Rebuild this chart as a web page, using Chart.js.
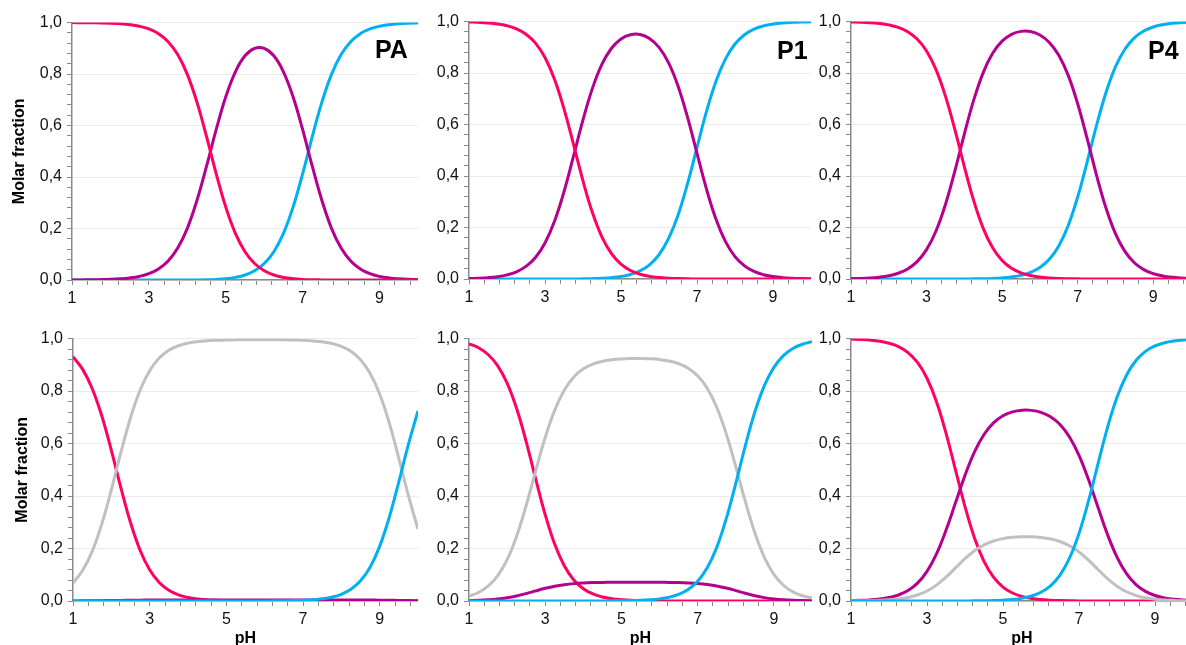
<!DOCTYPE html>
<html>
<head>
<meta charset="utf-8">
<script src="https://cdn.jsdelivr.net/npm/chart.js@4.4.0/dist/chart.umd.min.js"></script>
<style>
  html, body { margin: 0; padding: 0; background: #fff; width: 1186px; height: 645px; overflow: hidden; }
  .box { position: absolute; }
  .tag { position: absolute; font: bold 25px "Liberation Sans", Arial, sans-serif; line-height: 25px; color: #000; }
</style>
</head>
<body>
<div class="box" id="b1"><canvas id="c1"></canvas></div>
<div class="box" id="b2"><canvas id="c2"></canvas></div>
<div class="box" id="b3"><canvas id="c3"></canvas></div>
<div class="box" id="b4"><canvas id="c4"></canvas></div>
<div class="box" id="b5"><canvas id="c5"></canvas></div>
<div class="box" id="b6"><canvas id="c6"></canvas></div>
<div class="tag" style="left:375px;top:37px">PA</div>
<div class="tag" style="left:777px;top:38px">P1</div>
<div class="tag" style="left:1148px;top:38px">P4</div>
<script>
// pH points shared by all panels
var pH = [1, 1.25, 1.5, 1.75, 2, 2.25, 2.5, 2.75, 3, 3.25, 3.5, 3.75, 4, 4.25, 4.5, 4.75, 5, 5.25, 5.5, 5.75,
          6, 6.25, 6.5, 6.75, 7, 7.25, 7.5, 7.75, 8, 8.25, 8.5, 8.75, 9, 9.25, 9.5, 9.75, 10];

var xMajor = [1, 3, 5, 7, 9];
var yMajor = [0, 0.2, 0.4, 0.6, 0.8, 1];
var yLabels = ['0,0', '0,2', '0,4', '0,6', '0,8', '1,0'];

// top row: PA, P1, P4
var pa_red = [1.0, 0.9996, 0.9992, 0.9986, 0.9975, 0.9955, 0.992, 0.986, 0.9755, 0.957, 0.926, 0.876, 0.799, 0.691, 0.557, 0.4135, 0.283, 0.181, 0.110, 0.064,
              0.036, 0.0195, 0.010, 0.005, 0.0023, 0.001, 0.0004, 0, 0, 0, 0, 0, 0, 0, 0, 0, 0];
var pa_purple = [0.0003, 0.0004, 0.0008, 0.0014, 0.0025, 0.0045, 0.0079, 0.0139, 0.0245, 0.0428, 0.0736, 0.124, 0.2007, 0.309, 0.442, 0.584, 0.712, 0.809, 0.871, 0.900,
                 0.900, 0.871, 0.809, 0.712, 0.584, 0.442, 0.309, 0.2007, 0.124, 0.0736, 0.0428, 0.0245, 0.0139, 0.0079, 0.0045, 0.0025, 0.0014];
var pa_blue = [0, 0, 0, 0, 0, 0, 0, 0, 0, 0, 0, 0, 0.0001, 0.0004, 0.001, 0.0023, 0.005, 0.0102, 0.0195, 0.036,
               0.064, 0.110, 0.181, 0.283, 0.413, 0.557, 0.691, 0.799, 0.876, 0.926, 0.957, 0.9755, 0.986, 0.992, 0.9955, 0.9975, 0.9986];

var p1_red = [0.9984, 0.9971, 0.9949, 0.991, 0.984, 0.972, 0.951, 0.9164, 0.8604, 0.776, 0.661, 0.523, 0.381, 0.257, 0.1627, 0.0983, 0.0575, 0.0329, 0.0185, 0.0102,
              0.0055, 0.0029, 0.0015, 0.0007, 0.0003, 0.0001, 0, 0, 0, 0, 0, 0, 0, 0, 0, 0, 0];
var p1_purple = [0.0016, 0.0029, 0.0051, 0.009, 0.016, 0.028, 0.049, 0.0836, 0.1396, 0.224, 0.339, 0.477, 0.618, 0.7416, 0.8345, 0.8965, 0.9327, 0.949, 0.950, 0.9347,
                 0.900, 0.8406, 0.750, 0.629, 0.488, 0.349, 0.232, 0.145, 0.0872, 0.051, 0.0293, 0.0167, 0.0095, 0.0053, 0.003, 0.0017, 0.001];
var p1_blue = [0, 0, 0, 0, 0, 0, 0, 0, 0, 0, 0, 0, 0.0006, 0.0014, 0.0028, 0.0053, 0.0098, 0.0177, 0.0314, 0.055,
               0.0942, 0.1565, 0.248, 0.370, 0.511, 0.651, 0.768, 0.855, 0.9128, 0.949, 0.9707, 0.9833, 0.9905, 0.9947, 0.997, 0.9983, 0.999];

var p4_red = [0.9987, 0.9977, 0.9959, 0.9928, 0.9873, 0.9776, 0.9609, 0.9325, 0.8859, 0.8136, 0.7105, 0.580, 0.437, 0.3037, 0.1969, 0.121, 0.0717, 0.0415, 0.0236, 0.0133,
              0.0074, 0.004, 0.0021, 0.0011, 0.0005, 0.0002, 0, 0, 0, 0, 0, 0, 0, 0, 0, 0, 0];
var p4_purple = [0.0013, 0.0023, 0.0041, 0.0072, 0.0127, 0.0224, 0.0391, 0.0675, 0.1141, 0.1864, 0.2895, 0.420, 0.563, 0.6957, 0.802, 0.8767, 0.924, 0.9506, 0.962, 0.9614,
                 0.948, 0.919, 0.869, 0.791, 0.681, 0.546, 0.403, 0.2755, 0.176, 0.1073, 0.0633, 0.0366, 0.0209, 0.0119, 0.0067, 0.0038, 0.0021];
var p4_blue = [0, 0, 0, 0, 0, 0, 0, 0, 0, 0, 0, 0, 0.0002, 0.0006, 0.0012, 0.0023, 0.0043, 0.0079, 0.0142, 0.0253,
               0.0444, 0.0765, 0.1286, 0.208, 0.3186, 0.454, 0.597, 0.7245, 0.824, 0.8927, 0.9367, 0.9634, 0.979, 0.988, 0.9933, 0.9962, 0.9979];

// bottom row
var pa2_red = [0.931, 0.8836, 0.810, 0.7058, 0.5743, 0.4314, 0.299, 0.1935, 0.1189, 0.0705, 0.0409, 0.0234, 0.0133, 0.0075, 0.0042, 0.0024, 0.0013, 0.0008, 0.0004, 0.0002,
               0.0001, 0, 0, 0, 0, 0, 0, 0, 0, 0, 0, 0, 0, 0, 0, 0, 0];
var pa2_purple = [0.0003, 0.0005, 0.0008, 0.0012, 0.0017, 0.0023, 0.0028, 0.0032, 0.0035, 0.0037, 0.004, 0.004, 0.004, 0.004, 0.004, 0.004, 0.004, 0.004, 0.004, 0.004,
                  0.004, 0.004, 0.004, 0.004, 0.004, 0.004, 0.004, 0.004, 0.004, 0.0038, 0.0037, 0.0035, 0.0032, 0.0027, 0.0022, 0.0016, 0.0011];
var pa2_grey = [0.0687, 0.1159, 0.1892, 0.293, 0.424, 0.5663, 0.6982, 0.8033, 0.8776, 0.9258, 0.9553, 0.9727, 0.9828, 0.9885, 0.9918, 0.9936, 0.9947, 0.9952, 0.9956, 0.9957,
                0.9956, 0.9955, 0.9952, 0.9945, 0.9934, 0.9913, 0.9877, 0.9815, 0.9705, 0.9515, 0.9195, 0.8677, 0.7886, 0.6786, 0.5437, 0.4018, 0.2743];
var pa2_blue = [0, 0, 0, 0, 0, 0, 0, 0, 0, 0, 0, 0, 0, 0, 0, 0, 0, 0, 0, 0.0001,
                0.0003, 0.0005, 0.0008, 0.0015, 0.0026, 0.0047, 0.0083, 0.0146, 0.0256, 0.0447, 0.0768, 0.1288, 0.2082, 0.3187, 0.4541, 0.5966, 0.7246];

var p12_red = [0.980, 0.965, 0.9393, 0.897, 0.8304, 0.7336, 0.6077, 0.4655, 0.3287, 0.2159, 0.1341, 0.0801, 0.0467, 0.0268, 0.0153, 0.0086, 0.0049, 0.0027, 0.0015, 0.0009,
               0.0005, 0.0003, 0.0002, 0.0001, 0, 0, 0, 0, 0, 0, 0, 0, 0, 0, 0, 0, 0];
var p12_purple = [0.0014, 0.0025, 0.0044, 0.0074, 0.0122, 0.0192, 0.0282, 0.0385, 0.0483, 0.0565, 0.0623, 0.0662, 0.0686, 0.0701, 0.0709, 0.0713, 0.0716, 0.0717, 0.0717, 0.0716,
                  0.0714, 0.0709, 0.0702, 0.0688, 0.0666, 0.0629, 0.0573, 0.0494, 0.0397, 0.0294, 0.0202, 0.0129, 0.0079, 0.0047, 0.0027, 0.0015, 0.0009];
var p12_grey = [0.0186, 0.0325, 0.0563, 0.0956, 0.1574, 0.2472, 0.3641, 0.496, 0.623, 0.7276, 0.8036, 0.8537, 0.8847, 0.903, 0.9135, 0.9196, 0.9227, 0.9241, 0.9242, 0.9229,
                0.920, 0.9145, 0.9045, 0.8874, 0.8582, 0.8108, 0.7382, 0.6369, 0.5119, 0.3795, 0.2598, 0.1666, 0.1016, 0.060, 0.0347, 0.0199, 0.0113];
var p12_blue = [0, 0, 0, 0, 0, 0, 0, 0, 0, 0, 0, 0, 0, 0.0001, 0.0003, 0.0005, 0.0008, 0.0015, 0.0026, 0.0046,
                0.0081, 0.0143, 0.0251, 0.0437, 0.0752, 0.1263, 0.2045, 0.3137, 0.4484, 0.5911, 0.720, 0.8205, 0.8905, 0.9353, 0.9626, 0.9786, 0.9878];

var p42_red = [0.9982, 0.9968, 0.9944, 0.9901, 0.9825, 0.9694, 0.9468, 0.9091, 0.849, 0.7597, 0.640, 0.500, 0.3599, 0.2402, 0.1508, 0.0907, 0.0531, 0.0305, 0.0173, 0.0097,
               0.0054, 0.003, 0.0016, 0.0008, 0.0004, 0.0002, 0, 0, 0, 0, 0, 0, 0, 0, 0, 0, 0];
var p42_purple = [0.0013, 0.0024, 0.0042, 0.0074, 0.0131, 0.0229, 0.0398, 0.068, 0.113, 0.1797, 0.2693, 0.374, 0.4787, 0.568, 0.6345, 0.6788, 0.7058, 0.7208, 0.7271, 0.7265,
                  0.719, 0.7024, 0.673, 0.6253, 0.5552, 0.4627, 0.3569, 0.2536, 0.1675, 0.1043, 0.0625, 0.0365, 0.0209, 0.012, 0.0067, 0.0038, 0.0022];
var p42_grey = [0.0005, 0.0008, 0.0014, 0.0025, 0.0044, 0.0077, 0.0134, 0.0229, 0.038, 0.0606, 0.0907, 0.126, 0.1613, 0.1914, 0.2137, 0.2287, 0.2378, 0.2428, 0.2449, 0.2448,
                0.2422, 0.2367, 0.2267, 0.2107, 0.187, 0.1559, 0.1202, 0.0854, 0.0564, 0.0352, 0.0211, 0.0123, 0.0071, 0.004, 0.0023, 0.0013, 0.0007];
var p42_blue = [0, 0, 0, 0, 0, 0, 0, 0, 0, 0, 0, 0, 0.0002, 0.0005, 0.0009, 0.0018, 0.0033, 0.0059, 0.0107, 0.0189,
                0.0333, 0.0579, 0.0987, 0.163, 0.2574, 0.3812, 0.5229, 0.661, 0.7761, 0.8605, 0.9164, 0.9512, 0.972, 0.984, 0.991, 0.9949, 0.9971];

var RED = '#ff0066', PURPLE = '#b4008e', BLUE = '#00b0f0', GREY = '#c0c0c0';
var AXIS = '#8a8a8a';
var FONT = '"Liberation Sans", Arial, sans-serif';

function pts(arr) {
    return pH.map(function (x, i) { return { x: x, y: arr[i] }; });
}

function line(arr, color) {
    return { data: pts(arr), borderColor: color, backgroundColor: color, fill: false };
}

function steps(from, to, step) {
    var t = [];
    for (var v = from; v <= to + 1e-9; v += step) t.push({ value: Math.round(v * 1000) / 1000 });
    return t;
}

function yIndex(v) {
    for (var i = 0; i < yMajor.length; i++) if (Math.abs(yMajor[i] - v) < 1e-6) return i;
    return -1;
}

function panel(n, p, datasets) {
    var box = document.getElementById('b' + n);
    box.style.left = p.left + 'px';
    box.style.top = p.top + 'px';
    box.style.width = p.width + 'px';
    box.style.height = p.height + 'px';

    new Chart(document.getElementById('c' + n).getContext('2d'), {
        type: 'line',
        data: { datasets: datasets },
        options: {
            responsive: true,
            maintainAspectRatio: false,
            animation: false,
            layout: { padding: { top: 12, left: 0, right: 0, bottom: 0 } },
            plugins: { legend: { display: false }, tooltip: { enabled: false } },
            elements: {
                point: { radius: 0 },
                line: { borderWidth: 3, tension: 0.4 }
            },
            scales: {
                x: {
                    type: 'linear', min: 1, max: 10,
                    afterBuildTicks: function (s) { s.ticks = steps(1, 10, 0.4); },
                    afterFit: function (s) { s.height = p.xh; },
                    border: { color: AXIS, width: 1.5 },
                    grid: { drawOnChartArea: false, tickLength: 5, tickColor: AXIS },
                    ticks: {
                        autoSkip: false, maxRotation: 0, padding: 4, color: '#111',
                        font: { family: FONT, size: 16 },
                        callback: function (v) { return xMajor.indexOf(v) >= 0 ? String(v) : ''; }
                    },
                    title: {
                        display: p.ph, text: 'pH', color: '#000', padding: { top: 0, bottom: 0 },
                        font: { family: FONT, size: 16, weight: 'bold' }
                    }
                },
                y: {
                    min: 0, max: 1,
                    afterBuildTicks: function (s) { s.ticks = steps(0, 1, 0.04); },
                    afterFit: function (s) { s.width = p.yw; },
                    border: { color: AXIS, width: 1.5 },
                    grid: {
                        tickLength: 5, tickColor: AXIS,
                        color: function (c) { return c.tick && yIndex(c.tick.value) >= 0 ? '#ebebeb' : 'rgba(0,0,0,0)'; }
                    },
                    ticks: {
                        autoSkip: false, padding: 5, color: '#111',
                        font: { family: FONT, size: 16 },
                        callback: function (v) { var i = yIndex(v); return i >= 0 ? yLabels[i] : ''; }
                    },
                    title: {
                        display: p.molar, text: 'Molar fraction', color: '#000', padding: { top: p.tp || 0, bottom: 0 },
                        font: { family: FONT, size: 16, weight: 'bold' }
                    }
                }
            }
        }
    });
}

// top row
panel(1, { left: 0, top: 8, width: 418, height: 312, yw: 72, xh: 40, molar: true, tp: 10, ph: false },
      [line(pa_red, RED), line(pa_purple, PURPLE), line(pa_blue, BLUE)]);
panel(2, { left: 419, top: 7, width: 392, height: 312, yw: 50, xh: 40, molar: false, ph: false },
      [line(p1_red, RED), line(p1_purple, PURPLE), line(p1_blue, BLUE)]);
panel(3, { left: 801, top: 7, width: 390, height: 312, yw: 50, xh: 40, molar: false, ph: false },
      [line(p4_red, RED), line(p4_purple, PURPLE), line(p4_blue, BLUE)]);

// bottom row
panel(4, { left: 0, top: 324, width: 418, height: 324, yw: 73, xh: 47, molar: true, tp: 13, ph: true },
      [line(pa2_blue, BLUE), line(pa2_grey, GREY), line(pa2_purple, PURPLE), line(pa2_red, RED)]);
panel(5, { left: 419, top: 324, width: 393, height: 324, yw: 50, xh: 47, molar: false, ph: true },
      [line(p12_blue, BLUE), line(p12_grey, GREY), line(p12_purple, PURPLE), line(p12_red, RED)]);
panel(6, { left: 801, top: 324, width: 392, height: 324, yw: 50, xh: 47, molar: false, ph: true },
      [line(p42_blue, BLUE), line(p42_grey, GREY), line(p42_purple, PURPLE), line(p42_red, RED)]);
</script>
</body>
</html>
